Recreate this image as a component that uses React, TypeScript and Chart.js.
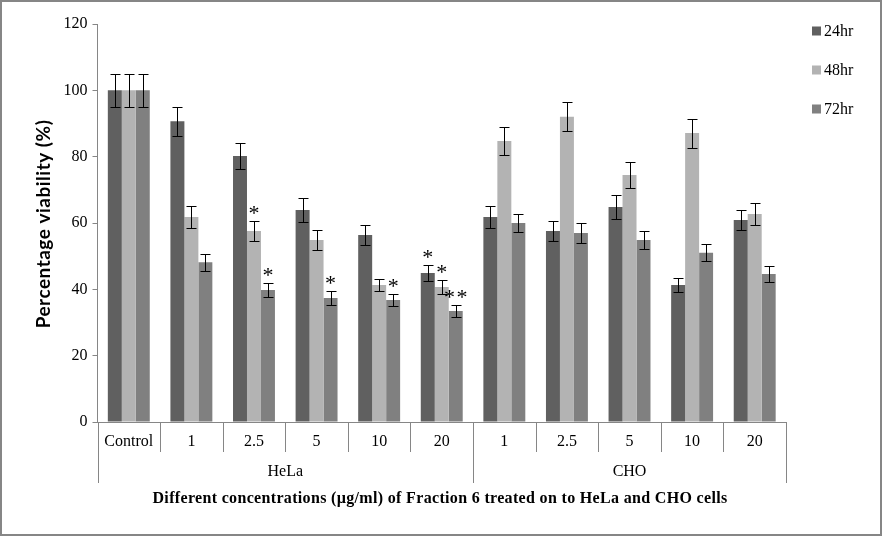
import React, { useEffect, useRef } from 'react';
import { Chart, registerables } from 'chart.js';

Chart.register(...registerables);

// ---- data ----
const categories = ['Control', '1', '2.5', '5', '10', '20', '1', '2.5', '5', '10', '20'];
const groupLabels = ['HeLa', 'CHO'];
const groupSizes = [6, 5];
const seriesLabels = ['24hr', '48hr', '72hr'];
const values24 = [100, 90.7, 80.2, 63.9, 56.4, 44.9, 61.8, 57.6, 64.8, 41.3, 60.9];
const values48 = [100, 61.8, 57.6, 54.9, 41.3, 40.7, 84.7, 92.0, 74.5, 87.1, 62.7];
const values72 = [100, 48.2, 39.8, 37.4, 36.8, 33.5, 60.0, 57.0, 54.9, 51.0, 44.6];
const errors24 = [5, 4.4, 3.8, 3.6, 2.9, 2.3, 3.2, 2.9, 3.5, 2.0, 2.9];
const errors48 = [5, 3.2, 2.9, 2.9, 1.9, 2.0, 4.3, 4.4, 3.8, 4.4, 3.2];
const errors72 = [5, 2.6, 2.0, 2.0, 1.7, 1.7, 2.8, 2.9, 2.6, 2.6, 2.3];
// number of significance asterisks above each bar
const stars24 = [0, 0, 0, 0, 0, 1, 0, 0, 0, 0, 0];
const stars48 = [0, 0, 1, 0, 0, 1, 0, 0, 0, 0, 0];
const stars72 = [0, 0, 1, 1, 1, 2, 0, 0, 0, 0, 0];
const yMin = 0;
const yMax = 120;
const yStep = 20;
const yTitle = 'Percentage viability (%)';
const xTitle = 'Different concentrations (\u00b5g/ml) of Fraction 6 treated on to HeLa and CHO cells';

const colors = ['#606060', '#b3b3b3', '#808080'];
const lineGray = '#868686';
const serif = '"Liberation Serif", "Times New Roman", serif';

const errorBarPlugin = {
  id: 'errorBars',
  afterDatasetsDraw(chart: any) {
    const ctx = chart.ctx;
    const y = chart.scales.y;
    ctx.save();
    ctx.strokeStyle = '#000';
    ctx.lineWidth = 1;
    chart.data.datasets.forEach((ds: any, i: number) => {
      const meta = chart.getDatasetMeta(i);
      meta.data.forEach((el: any, j: number) => {
        const v = ds.data[j];
        const e = ds.errors[j];
        const x = Math.round(el.x) + 0.5;
        const top = Math.round(y.getPixelForValue(v + e)) + 0.5;
        const bot = Math.round(y.getPixelForValue(v - e)) + 0.5;
        ctx.beginPath();
        ctx.moveTo(x, top);
        ctx.lineTo(x, bot);
        ctx.moveTo(x - 5, top);
        ctx.lineTo(x + 5, top);
        ctx.moveTo(x - 5, bot);
        ctx.lineTo(x + 5, bot);
        ctx.stroke();
        const n = ds.stars[j];
        if (n > 0) {
          ctx.fillStyle = '#000';
          ctx.font = '22px ' + serif;
          ctx.textAlign = 'center';
          ctx.textBaseline = 'alphabetic';
          for (let k = 0; k < n; k++) {
            const sx = el.x + (k - (n - 1) / 2) * 12.5;
            const cy = top - 12.5;
            ctx.fillText('*', sx, cy + 11);
          }
        }
      });
    });
    ctx.restore();
  },
};

const tablePlugin = {
  id: 'tableAxis',
  afterDraw(chart: any) {
    const ctx = chart.ctx;
    const x = chart.scales.x;
    const area = chart.chartArea;
    const w = x.getPixelForValue(1) - x.getPixelForValue(0);
    const base = area.bottom;
    ctx.save();
    ctx.strokeStyle = lineGray;
    ctx.lineWidth = 1;
    const groupEdges = new Set<number>();
    let acc = 0;
    groupEdges.add(0);
    groupSizes.forEach((s) => {
      acc += s;
      groupEdges.add(acc);
    });
    for (let k = 0; k <= categories.length; k++) {
      const px = Math.round(x.getPixelForValue(k) - w / 2) + 0.5;
      const len = groupEdges.has(k) ? 61 : 30;
      ctx.beginPath();
      ctx.moveTo(px, base);
      ctx.lineTo(px, base + len);
      ctx.stroke();
    }
    ctx.fillStyle = '#000';
    ctx.font = '16px ' + serif;
    ctx.textAlign = 'center';
    ctx.textBaseline = 'middle';
    categories.forEach((c, i) => {
      ctx.fillText(c, x.getPixelForValue(i), base + 19.5);
    });
    let start = 0;
    groupLabels.forEach((g, gi) => {
      const end = start + groupSizes[gi] - 1;
      const cx = (x.getPixelForValue(start) + x.getPixelForValue(end)) / 2;
      ctx.fillText(g, cx, base + 50);
      start = end + 1;
    });
    // x-axis title
    ctx.font = 'bold 16px ' + serif;
    (ctx as any).letterSpacing = '0.33px';
    ctx.fillText(xTitle, 440, 498.5);
    // y-axis title
    ctx.save();
    ctx.translate(44, 224);
    ctx.rotate(-Math.PI / 2);
    ctx.font = 'bold 19px Lato, "Open Sans", sans-serif';
    (ctx as any).letterSpacing = '0.5px';
    ctx.fillText(yTitle, 0, 0);
    ctx.restore();
    (ctx as any).letterSpacing = '0px';
    // legend
    ctx.textAlign = 'left';
    chart.data.datasets.forEach((ds: any, i: number) => {
      const ly = 31 + i * 39;
      ctx.fillStyle = ds.backgroundColor;
      ctx.fillRect(area.right + 26, ly - 4.5, 9, 9);
      ctx.fillStyle = '#000';
      ctx.font = '16px ' + serif;
      ctx.fillText(ds.label, area.right + 38, ly + 1);
    });
    // outer frame
    ctx.strokeStyle = lineGray;
    ctx.lineWidth = 2;
    ctx.strokeRect(1, 1, chart.width - 2, chart.height - 2);
    ctx.restore();
  },
};

export default function App() {
  const ref = useRef<HTMLCanvasElement | null>(null);
  useEffect(() => {
    if (!ref.current) return;
    const valueSets = [values24, values48, values72];
    const errorSets = [errors24, errors48, errors72];
    const starSets = [stars24, stars48, stars72];
    const chart = new Chart(ref.current, {
      type: 'bar',
      data: {
        labels: categories,
        datasets: seriesLabels.map((l, i) => ({
          label: l,
          data: valueSets[i],
          errors: errorSets[i],
          stars: starSets[i],
          backgroundColor: colors[i],
          borderWidth: 0,
          categoryPercentage: 0.67,
          barPercentage: 1,
        })) as any,
      },
      options: {
        responsive: false,
        animation: false,
        devicePixelRatio: 1,
        layout: { padding: { top: 24, right: 96, bottom: 0, left: 0 } },
        plugins: { legend: { display: false }, tooltip: { enabled: false } },
        scales: {
          x: {
            grid: { display: false },
            border: { display: true, color: lineGray, width: 1 },
            ticks: { display: false },
            afterFit: (s: any) => {
              s.height = 114;
            },
          },
          y: {
            min: yMin,
            max: yMax,
            ticks: {
              stepSize: yStep,
              color: '#000',
              padding: 5,
              font: { family: serif, size: 16 },
            },
            grid: { drawOnChartArea: false, drawTicks: true, tickLength: 5, color: lineGray },
            border: { display: true, color: lineGray, width: 1 },
            afterFit: (s: any) => {
              s.width = 97.5;
            },
          },
        },
      },
      plugins: [errorBarPlugin, tablePlugin],
    });
    return () => chart.destroy();
  }, []);
  return (
    <div style={{ position: 'fixed', left: 0, top: 0, width: 882, height: 536, background: '#fff' }}>
      <canvas ref={ref} width={882} height={536} style={{ display: 'block' }} />
    </div>
  );
}
